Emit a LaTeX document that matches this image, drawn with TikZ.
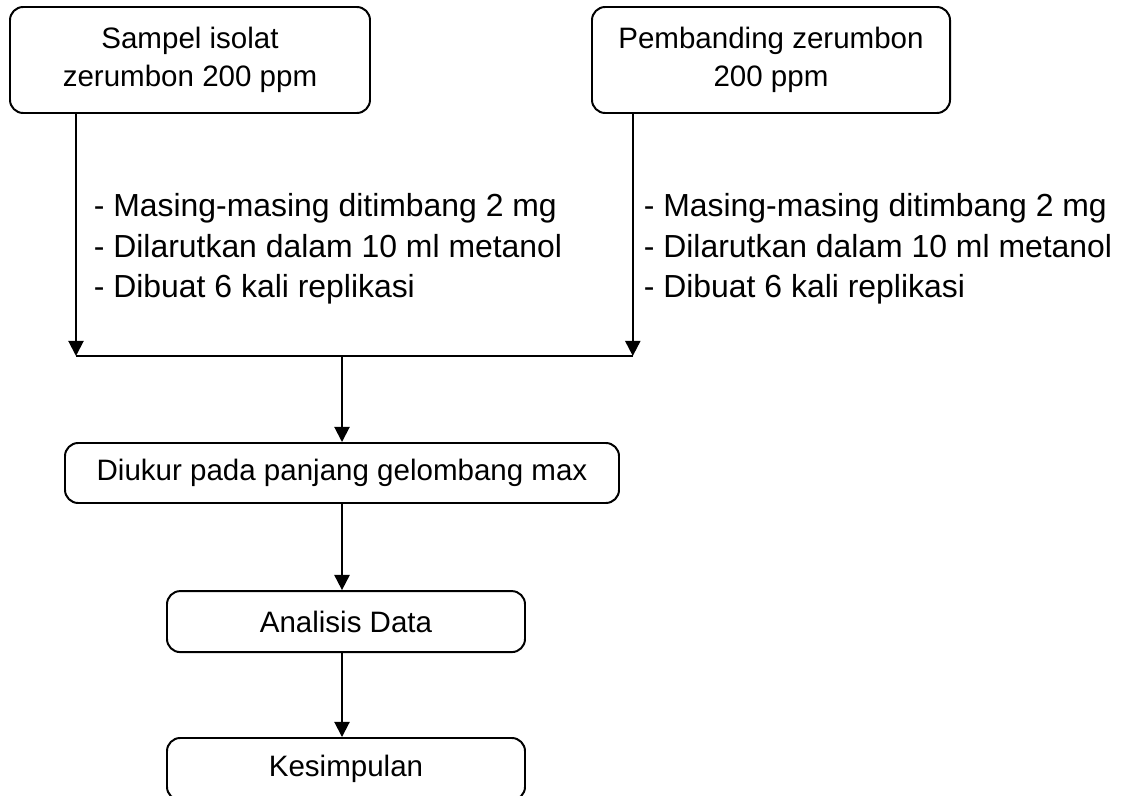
\documentclass[tikz,border=0pt]{standalone}
\usepackage{fontspec}
\setmainfont{Liberation Sans}
\usetikzlibrary{arrows.meta,positioning,calc}

\tikzset{
  flowbox/.style={rectangle,draw,line width=1.4pt,rounded corners=0.33cm,
    align=center,inner sep=0pt,font=\fontsize{21}{27}\selectfont},
  steptext/.style={align=left,anchor=west,inner sep=0pt,
    font=\fontsize{22.7}{28.8}\selectfont},
  arr/.style={line width=1.4pt,-{Triangle[width=0.38cm,length=0.38cm]}},
  ln/.style={line width=1.4pt}
}

\begin{document}
\begin{tikzpicture}
\useasboundingbox (0,0) rectangle (28.125,-19.9);
    % Input boxes
\node[flowbox,minimum width=9cm,minimum height=2.65cm] (isolat) at (4.75,-1.5)
  {Sampel isolat\\zerumbon 200 ppm};
\node[flowbox,minimum width=8.95cm,minimum height=2.65cm] (pembanding) at (19.275,-1.5)
  {Pembanding zerumbon\\200 ppm};
    % Preparation steps
\node[steptext] (prepisolat) at (2.34,-6.22)
  {- Masing-masing ditimbang 2 mg\\- Dilarutkan dalam 10 ml metanol\\- Dibuat 6 kali replikasi};
\node[steptext] (preppembanding) at (16.09,-6.22)
  {- Masing-masing ditimbang 2 mg\\- Dilarutkan dalam 10 ml metanol\\- Dibuat 6 kali replikasi};
    % Measurement and analysis
\node[flowbox,minimum width=13.85cm,minimum height=1.5cm] (ukur) at (8.55,-11.825)
  {Diukur pada panjang gelombang max};
\node[flowbox,minimum width=8.95cm,minimum height=1.525cm] (analisis) at (8.65,-15.54)
  {Analisis Data};
\node[flowbox,minimum width=8.95cm,minimum height=1.55cm] (kesimpulan) at (8.65,-19.225)
  {Kesimpulan};
    % Connectors
\coordinate (jl) at (1.9,-8.9);
\coordinate (jr) at (15.82,-8.9);
\coordinate (jm) at (ukur.north |- jl);
\draw[arr] (jl |- isolat.south) -- (jl);
\draw[arr] (jr |- pembanding.south) -- (jr);
\draw[ln] (jl) -- (jr);
\draw[arr] (jm) -- (ukur.north);
\draw[arr] (ukur.south) -- (ukur.south |- analisis.north);
\draw[arr] (analisis.south -| ukur.south) -- (kesimpulan.north -| ukur.south);
\end{tikzpicture}
\end{document}
